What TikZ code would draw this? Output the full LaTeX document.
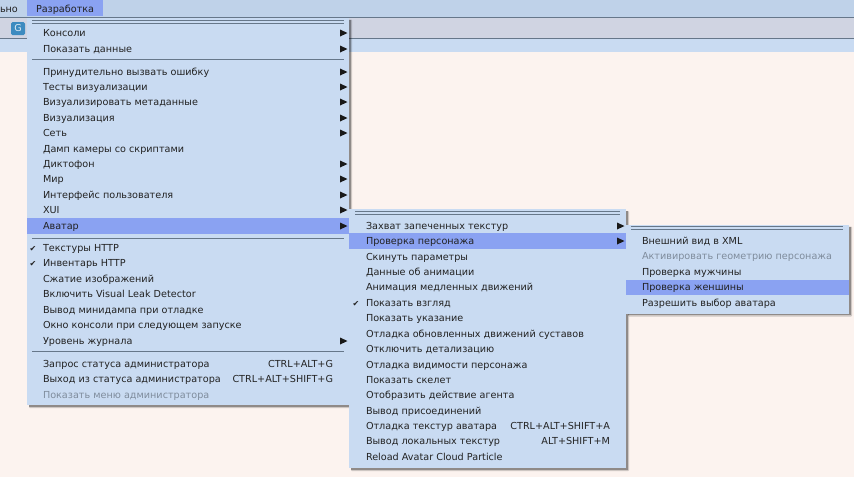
\documentclass[tikz,border=0pt]{standalone}
\usepackage{fontspec}
\setmainfont{DejaVu Sans}
\definecolor{bg}{HTML}{FCF3EF}
\definecolor{barc}{HTML}{BFD2E9}
\definecolor{strip}{HTML}{C9DBF2}
\definecolor{tool}{HTML}{D0D4E2}
\definecolor{menuc}{HTML}{C9DBF2}
\definecolor{hl}{HTML}{8AA2F2}
\definecolor{sepc}{HTML}{66778A}
\definecolor{txt}{HTML}{222222}
\definecolor{dis}{HTML}{7F8C9C}
\definecolor{gblue}{HTML}{3D8BC0}
\tikzset{
  x=1pt,y=-1pt,
  menupanel/.style={fill=menuc,draw=none},
  shadowa/.style={fill=black,fill opacity=0.18,draw=none,rounded corners=1pt},
  shadowb/.style={fill=black,fill opacity=0.3,draw=none},
  hlbar/.style={fill=hl,draw=none},
  sepline/.style={draw=sepc,line width=0.75pt},
  item/.style={anchor=base west,inner sep=0pt,outer sep=0pt,text=txt,font=\fontsize{9.65}{11}\selectfont},
  gitem/.style={item,text=dis},
  keyitem/.style={anchor=base east,inner sep=0pt,outer sep=0pt,text=txt,font=\fontsize{9.65}{11}\selectfont},
  tri/.style={fill=black!90,draw=none},
  chk/.style={anchor=base,inner sep=0pt,text=txt,font=\fontsize{8}{9}\selectfont},
}
\newcommand{\arr}[2]{\fill[tri] (#1,#2-3.5) -- (#1+7.5,#2) -- (#1,#2+3.5) -- cycle;}
\newcommand{\grip}[3]{\draw[sepline] (#1,#3) -- (#2,#3); \draw[sepline] (#1,#3+3) -- (#2,#3+3);}
\newcommand{\panel}[4]{%
  \fill[shadowa] (#1+2,#2+2) rectangle (#3+3,#4+3);
  \fill[shadowb] (#1+2,#2+2) rectangle (#3+1.8,#4+1.8);
  \fill[menupanel] (#1,#2) rectangle (#3,#4);}
\begin{document}
\begin{tikzpicture}
\useasboundingbox (0,0) rectangle (854,477);
\fill[bg] (0,0) rectangle (854,477);
% top bars
\fill[barc] (0,0) rectangle (854,17);
\fill[tool] (0,17.5) rectangle (854,38);
\draw[sepc,line width=0.9pt] (0,17.5) -- (854,17.5);
\draw[sepc,line width=0.9pt] (0,38) -- (854,38);
\fill[strip] (0,38.5) rectangle (854,52);
\fill[hl] (27,0) rectangle (103,16);
\node[item] (mleft) at (0,12) {ьно};
\node[item] (mdev) at (36,12) {Разработка};
\fill[gblue,rounded corners=1.5pt] (11,22) rectangle (25,35);
\node[anchor=center,inner sep=0pt,text=white!85!gblue,font=\fontsize{9.5}{10}\selectfont] (gicon) at (18,28.5) {G};
% menu 1
\panel{27}{17.5}{349}{405}
\grip{32}{344}{20}
\node[item] (a1) at (43,36) {Консоли}; \arr{340}{33}
\node[item] (a2) at (43,52) {Показать данные}; \arr{340}{49}
\draw[sepline] (32,59.5) -- (344,59.5);
\node[item] (a3) at (43,75) {Принудительно вызвать ошибку}; \arr{340}{72}
\node[item] (a4) at (43,90) {Тесты визуализации}; \arr{340}{87}
\node[item] (a5) at (43,105.5) {Визуализировать метаданные}; \arr{340}{102}
\node[item] (a6) at (43,121) {Визуализация}; \arr{340}{118}
\node[item] (a7) at (43,136.5) {Сеть}; \arr{340}{133}
\node[item] (a8) at (43,152) {Дамп камеры со скриптами};
\node[item] (a9) at (43,167) {Диктофон}; \arr{340}{164}
\node[item] (a10) at (43,182.5) {Мир}; \arr{340}{179}
\node[item] (a11) at (43,198) {Интерфейс пользователя}; \arr{340}{195}
\node[item] (a12) at (43,213) {XUI}; \arr{340}{210}
\fill[hlbar] (27,218) rectangle (349,233.5);
\node[item] (a13) at (43,229) {Аватар}; \arr{340}{226}
\draw[sepline] (32,238.5) -- (344,238.5);
\node[chk] (c1) at (33,251) {✔};
\node[item] (a14) at (43,251) {Текстуры HTTP};
\node[chk] (c2) at (33,266) {✔};
\node[item] (a15) at (43,266) {Инвентарь HTTP};
\node[item] (a16) at (43,282) {Сжатие изображений};
\node[item] (a17) at (43,297) {Включить Visual Leak Detector};
\node[item] (a18) at (43,313) {Вывод минидампа при отладке};
\node[item] (a19) at (43,328) {Окно консоли при следующем запуске};
\node[item] (a20) at (43,344) {Уровень журнала}; \arr{340}{341}
\draw[sepline] (32,351.5) -- (344,351.5);
\node[item] (a21) at (43,367) {Запрос статуса администратора};
\node[keyitem] (k21) at (333,367) {CTRL+ALT+G};
\node[item] (a22) at (43,382) {Выход из статуса администратора};
\node[keyitem] (k22) at (333,382) {CTRL+ALT+SHIFT+G};
\node[gitem] (a23) at (43,398) {Показать меню администратора};
% menu 2
\panel{349}{209}{626}{468}
\grip{355}{620}{211}
\node[item] (b1) at (366,229) {Захват запеченных текстур}; \arr{617}{226}
\fill[hlbar] (349,233) rectangle (626,249);
\node[item] (b2) at (366,244.5) {Проверка персонажа}; \arr{617}{241}
\node[item] (b3) at (366,260) {Скинуть параметры};
\node[item] (b4) at (366,275) {Данные об анимации};
\node[item] (b5) at (366,290) {Анимация медленных движений};
\node[chk] (c3) at (356,306) {✔};
\node[item] (b6) at (366,306) {Показать взгляд};
\node[item] (b7) at (366,321) {Показать указание};
\node[item] (b8) at (366,337) {Отладка обновленных движений суставов};
\node[item] (b9) at (366,352) {Отключить детализацию};
\node[item] (b10) at (366,368) {Отладка видимости персонажа};
\node[item] (b11) at (366,383) {Показать скелет};
\node[item] (b12) at (366,398) {Отобразить действие агента};
\node[item] (b13) at (366,414) {Вывод присоединений};
\node[item] (b14) at (366,429) {Отладка текстур аватара};
\node[keyitem] (k14) at (610,429) {CTRL+ALT+SHIFT+A};
\node[item] (b15) at (366,444) {Вывод локальных текстур};
\node[keyitem] (k15) at (610,444) {ALT+SHIFT+M};
\node[item] (b16) at (366,460) {Reload Avatar Cloud Particle};
% menu 3
\panel{626}{224.5}{849}{313.5}
\grip{631}{843}{226.5}
\node[item] (d1) at (642,244) {Внешний вид в XML};
\node[gitem] (d2) at (642,259.5) {Активировать геометрию персонажа};
\node[item] (d3) at (642,275) {Проверка мужчины};
\fill[hlbar] (626,279.5) rectangle (849,294.5);
\node[item] (d4) at (642,290) {Проверка женшины};
\node[item] (d5) at (642,306) {Разрешить выбор аватара};
\end{tikzpicture}
\end{document}
